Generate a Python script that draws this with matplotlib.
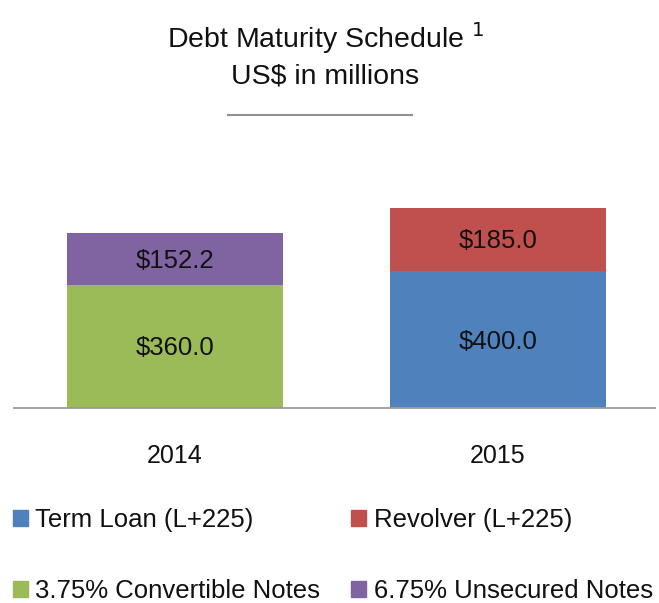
import numpy as np
import matplotlib.pyplot as plt
from matplotlib.patches import Patch
from matplotlib.lines import Line2D

plt.rcParams['font.family'] = ['Liberation Sans', 'DejaVu Sans']

years = ['2014', '2015']
term_loan = [0.0, 400.0]
convertible = [360.0, 0.0]
revolver = [0.0, 185.0]
unsecured = [152.2, 0.0]

names = ['Term Loan (L+225)', 'Revolver (L+225)',
         '3.75% Convertible Notes', '6.75% Unsecured Notes']
colors = ['#4F81BD', '#C0504D', '#9BBB59', '#8064A2']

fig = plt.figure(figsize=(6.59, 6.03), dpi=100)
ax = fig.add_axes([14 / 659, 195 / 603, 641 / 659, 258 / 603])

x = np.arange(len(years))
w = 0.67
series = [term_loan, convertible, revolver, unsecured]
cols = [colors[0], colors[2], colors[1], colors[3]]
bottom = np.zeros(len(years))
for vals, c in zip(series, cols):
    vals = np.array(vals)
    ax.bar(x, vals, w, bottom=bottom, color=c, edgecolor='none')
    for xi, v, b in zip(x, vals, bottom):
        if v > 0:
            ax.text(xi, b + v / 2 - 6, f'${v:.1f}', ha='center', va='center',
                    fontsize=18.5, color='#111111')
    bottom += vals

ax.set_xlim(-0.4985, 1.486)
ax.set_ylim(0, 753)
for s in ['top', 'right', 'left']:
    ax.spines[s].set_visible(False)
ax.spines['bottom'].set_color('#9a9a9a')
ax.spines['bottom'].set_linewidth(1.3)
ax.set_yticks([])
ax.set_xticks(x)
ax.set_xticklabels(years, fontsize=18, color='#111111')
ax.tick_params(axis='x', length=0, pad=26)

fig.text(0.494, 1 - 38 / 603, 'Debt Maturity Schedule $^1$', ha='center', va='center',
         fontsize=20.5, color='#111111')
fig.text(0.494, 1 - 76 / 603, 'US$ in millions', ha='center', va='center',
         fontsize=20.5, color='#111111')
fig.add_artist(Line2D([228 / 659, 412 / 659], [1 - 115 / 603, 1 - 115 / 603],
                      color='#909090', lw=1.5))

handles = [Patch(color=colors[0]), Patch(color=colors[2]),
           Patch(color=colors[1]), Patch(color=colors[3])]
labels = [names[0], names[2], names[1], names[3]]
fig.legend(handles, labels, ncol=2, loc='upper left',
           bbox_to_anchor=(5 / 659, 1 - 500 / 603), frameon=False, fontsize=18.5,
           handlelength=0.58, handleheight=0.58, handletextpad=0.3,
           columnspacing=1.2, labelspacing=1.86, borderaxespad=0.0,
           borderpad=0.3, labelcolor='#111111')

fig.savefig('out.png', dpi=100)
